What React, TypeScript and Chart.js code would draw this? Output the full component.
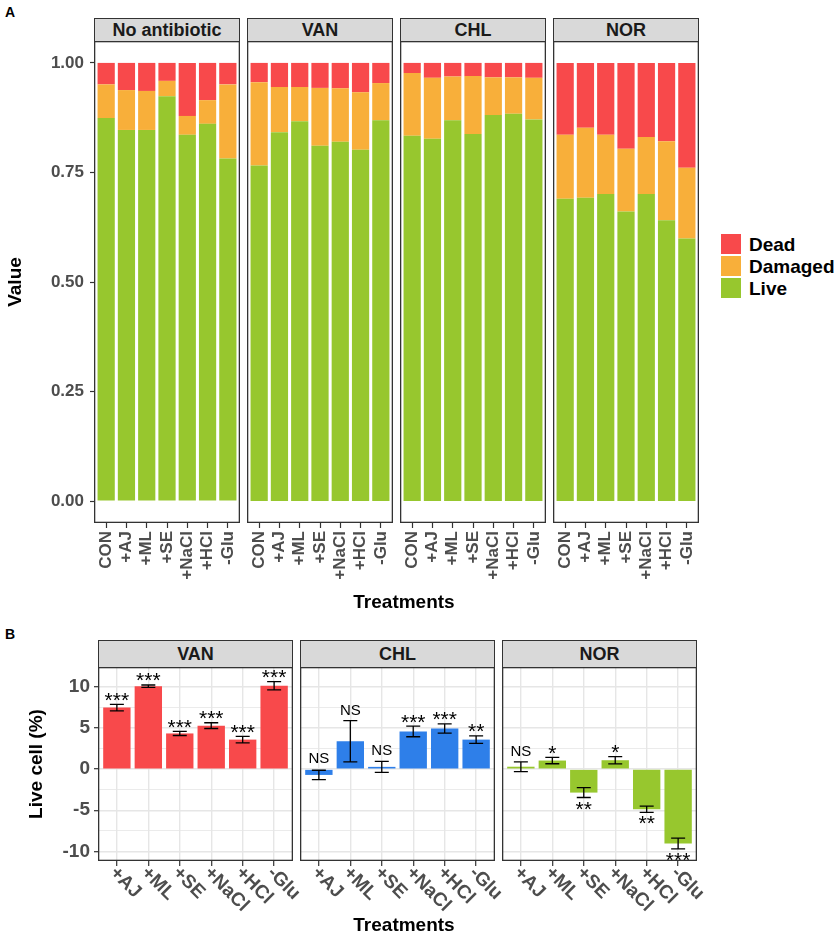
import React, { useEffect, useRef } from 'react';
import { Chart, registerables } from 'chart.js';
Chart.register(...registerables);

const FONT = "'Liberation Sans', Arial, Helvetica, sans-serif";
const RED = '#F8494B';
const ORANGE = '#F8AF3A';
const GREEN = '#97C72E';
const BLUE = '#2E7FE9';
const AXIS_TEXT = '#4D4D4D';

// ---------- Panel A data ----------
const treatmentsA = ['CON', '+AJ', '+ML', '+SE', '+NaCl', '+HCl', '-Glu'];
const facetTitlesA = ['No antibiotic', 'VAN', 'CHL', 'NOR'];
const yTicksA = [0, 0.25, 0.5, 0.75, 1];

const liveNone = [0.874, 0.847, 0.847, 0.924, 0.836, 0.861, 0.782];
const damagedNone = [0.077, 0.091, 0.089, 0.035, 0.043, 0.054, 0.169];
const deadNone = [0.049, 0.062, 0.064, 0.041, 0.121, 0.085, 0.049];

const liveVAN = [0.766, 0.842, 0.867, 0.811, 0.82, 0.802, 0.869];
const damagedVAN = [0.19, 0.103, 0.078, 0.132, 0.122, 0.131, 0.085];
const deadVAN = [0.044, 0.055, 0.055, 0.057, 0.058, 0.067, 0.046];

const liveCHL = [0.834, 0.827, 0.869, 0.838, 0.881, 0.884, 0.871];
const damagedCHL = [0.143, 0.139, 0.1, 0.132, 0.086, 0.083, 0.095];
const deadCHL = [0.023, 0.034, 0.031, 0.03, 0.033, 0.033, 0.034];

const liveNOR = [0.69, 0.692, 0.701, 0.661, 0.701, 0.641, 0.599];
const damagedNOR = [0.146, 0.16, 0.135, 0.143, 0.13, 0.18, 0.162];
const deadNOR = [0.164, 0.148, 0.164, 0.196, 0.169, 0.179, 0.239];

// ---------- Panel B data ----------
const treatmentsB = ['+AJ', '+ML', '+SE', '+NaCl', '+HCl', '-Glu'];
const facetTitlesB = ['VAN', 'CHL', 'NOR'];
const yTicksB = [-10, -5, 0, 5, 10];
const yMinorB = [-7.5, -2.5, 2.5, 7.5];

const changeVAN = [7.5, 10.1, 4.35, 5.3, 3.6, 10.15];
const errVAN = [0.4, 0.15, 0.25, 0.35, 0.4, 0.5];
const sigVAN = ['***', '***', '***', '***', '***', '***'];

const changeCHL = [-0.7, 3.4, 0.28, 4.6, 4.95, 3.6];
const errCHL = [0.57, 2.5, 0.67, 0.65, 0.57, 0.45];
const sigCHL = ['NS', 'NS', 'NS', '***', '***', '**'];

const changeNOR = [0.3, 1.05, -2.85, 1.09, -4.88, -9.05];
const errNOR = [0.59, 0.39, 0.6, 0.45, 0.37, 0.65];
const sigNOR = ['NS', '*', '**', '*', '**', '***'];

// ---------- layout ----------
const PA = { top: 41, bottom: 523, lefts: [94, 247, 400, 553], width: 146, xAxisH: 88, stripTop: 18 };
const PB = { top: 667, bottom: 861, lefts: [98, 300, 502], width: 195, xAxisH: 70, stripTop: 640, extraRight: 30 };

const borderPlugin = {
  id: 'panelBorder',
  afterDraw(chart: any) {
    const { ctx, chartArea: a } = chart;
    ctx.save();
    ctx.strokeStyle = '#333333';
    ctx.lineWidth = 1.3;
    ctx.strokeRect(a.left + 0.65, a.top + 0.65, a.right - a.left - 1.3, a.bottom - a.top - 1.3);
    ctx.restore();
  },
};

function ChartCanvas({ left, top, width, height, build }: any) {
  const ref = useRef<HTMLCanvasElement>(null);
  useEffect(() => {
    const chart = new Chart(ref.current as HTMLCanvasElement, build());
    return () => chart.destroy();
  }, []);
  return (
    <canvas
      ref={ref}
      width={width}
      height={height}
      style={{ position: 'absolute', left, top, width, height, display: 'block' }}
    />
  );
}

function buildStacked(live: number[], damaged: number[], dead: number[], first: boolean) {
  const pts = (arr: number[]) => arr.map((v, i) => ({ x: i, y: v }));
  return {
    type: 'bar',
    data: {
      datasets: [
        { label: 'Live', data: pts(live), backgroundColor: GREEN },
        { label: 'Damaged', data: pts(damaged), backgroundColor: ORANGE },
        { label: 'Dead', data: pts(dead), backgroundColor: RED },
      ],
    },
    options: {
      responsive: false,
      animation: false,
      events: [],
      layout: { padding: 0 },
      plugins: { legend: { display: false }, tooltip: { enabled: false } },
      datasets: { bar: { barPercentage: 0.85, categoryPercentage: 1, borderWidth: 0 } },
      scales: {
        x: {
          type: 'linear',
          stacked: true,
          offset: false,
          min: -0.6,
          max: 6.6,
          afterBuildTicks: (s: any) => {
            s.ticks = treatmentsA.map((_, i) => ({ value: i }));
          },
          afterFit: (s: any) => {
            s.height = PA.xAxisH;
            s.paddingLeft = 0;
            s.paddingRight = 0;
          },
          ticks: {
            autoSkip: false,
            minRotation: 90,
            maxRotation: 90,
            padding: 3,
            color: AXIS_TEXT,
            font: { family: FONT, size: 17, weight: 'bold' },
            callback: (v: any) => treatmentsA[v] ?? '',
          },
          grid: {
            display: true,
            offset: false,
            drawOnChartArea: false,
            drawTicks: true,
            tickLength: 5,
            tickColor: '#333333',
            tickWidth: 1.2,
          },
          border: { display: false },
        },
        y: {
          stacked: true,
          display: first,
          min: -0.05,
          max: 1.05,
          afterBuildTicks: (s: any) => {
            s.ticks = yTicksA.map((v) => ({ value: v }));
          },
          afterFit: (s: any) => {
            s.width = first ? PA.lefts[0] : 0;
            s.paddingTop = 0;
            s.paddingBottom = 0;
          },
          ticks: {
            padding: 6,
            color: AXIS_TEXT,
            font: { family: FONT, size: 17, weight: 'bold' },
            callback: (v: any) => Number(v).toFixed(2),
          },
          grid: { drawOnChartArea: false, tickLength: 4, tickColor: '#333333', tickWidth: 1.2 },
          border: { display: false },
          title: {
            display: true,
            text: 'Value',
            color: '#000000',
            font: { family: FONT, size: 19, weight: 'bold' },
            padding: { top: 4, bottom: 0 },
          },
        },
      },
    },
    plugins: [borderPlugin],
  };
}

function errPlugin(vals: number[], errs: number[], sigs: string[]) {
  return {
    id: 'errbars',
    afterDatasetsDraw(chart: any) {
      const xs = chart.scales.x;
      const ys = chart.scales.y;
      const ctx = chart.ctx;
      ctx.save();
      ctx.strokeStyle = '#000000';
      ctx.fillStyle = '#000000';
      ctx.lineWidth = 1.3;
      const zero = ys.getPixelForValue(0);
      vals.forEach((v, i) => {
        const x = xs.getPixelForValue(i);
        const yt = ys.getPixelForValue(v + errs[i]);
        const yb = ys.getPixelForValue(v - errs[i]);
        const cw = 7;
        ctx.beginPath();
        ctx.moveTo(x, yt);
        ctx.lineTo(x, yb);
        ctx.moveTo(x - cw, yt);
        ctx.lineTo(x + cw, yt);
        ctx.moveTo(x - cw, yb);
        ctx.lineTo(x + cw, yb);
        ctx.stroke();
        const s = sigs[i];
        const star = s !== 'NS';
        ctx.font = star ? `21px ${FONT}` : `15px ${FONT}`;
        ctx.textAlign = 'center';
        ctx.textBaseline = 'alphabetic';
        const m = ctx.measureText(s);
        const asc = m.actualBoundingBoxAscent;
        const desc = m.actualBoundingBoxDescent;
        const below = v < 0 && star;
        let base;
        if (below) {
          const glyphTop = yb + 4;
          base = glyphTop + asc;
        } else {
          const anchor = Math.min(yt, zero);
          const glyphBottom = anchor - (star ? 3.5 : 6);
          base = glyphBottom - desc;
        }
        ctx.fillText(s, x, base);
      });
      ctx.restore();
    },
  };
}

const xLabelsBPlugin = {
  id: 'xLabelsB',
  afterDraw(chart: any) {
    const xs = chart.scales.x;
    const a = chart.chartArea;
    const ctx = chart.ctx;
    ctx.save();
    ctx.font = `bold 19px ${FONT}`;
    ctx.fillStyle = AXIS_TEXT;
    ctx.textAlign = 'left';
    ctx.textBaseline = 'middle';
    treatmentsB.forEach((t, i) => {
      const x = xs.getPixelForValue(i);
      ctx.save();
      ctx.translate(x - 4, a.bottom + 9);
      ctx.rotate(Math.PI / 4);
      ctx.fillText(t, 0, 0);
      ctx.restore();
    });
    ctx.restore();
  },
};

function buildChange(vals: number[], errs: number[], sigs: string[], color: string, first: boolean) {
  const allY = [...yTicksB, ...yMinorB].sort((a, b) => a - b);
  return {
    type: 'bar',
    data: {
      datasets: [
        {
          label: 'Live cell (%)',
          data: vals.map((v, i) => ({ x: i, y: v })),
          backgroundColor: color,
        },
      ],
    },
    options: {
      responsive: false,
      animation: false,
      events: [],
      layout: { padding: { left: 0, top: 0, bottom: 0, right: PB.extraRight } },
      plugins: { legend: { display: false }, tooltip: { enabled: false } },
      datasets: { bar: { barPercentage: 0.87, categoryPercentage: 1, borderWidth: 0 } },
      scales: {
        x: {
          type: 'linear',
          offset: false,
          min: -0.6,
          max: 5.6,
          afterBuildTicks: (s: any) => {
            s.ticks = treatmentsB.map((_, i) => ({ value: i }));
          },
          afterFit: (s: any) => {
            s.height = PB.xAxisH;
            s.paddingLeft = 0;
            s.paddingRight = 0;
          },
          ticks: { display: false },
          grid: {
            display: true,
            offset: false,
            drawOnChartArea: true,
            color: '#E6E6E6',
            lineWidth: 1.4,
            drawTicks: true,
            tickLength: 5,
            tickColor: '#333333',
            tickWidth: 1.2,
          },
          border: { display: false },
        },
        y: {
          display: true,
          min: -11.18,
          max: 12.44,
          afterBuildTicks: (s: any) => {
            s.ticks = allY.map((v) => ({ value: v }));
          },
          afterFit: (s: any) => {
            s.width = first ? PB.lefts[0] : 0;
            s.paddingTop = 0;
            s.paddingBottom = 0;
          },
          ticks: {
            display: first,
            autoSkip: false,
            padding: 4,
            color: AXIS_TEXT,
            font: { family: FONT, size: 19, weight: 'bold' },
            callback: (v: any) => (yTicksB.includes(Number(v)) ? String(v) : ''),
          },
          grid: {
            drawOnChartArea: true,
            drawTicks: first,
            tickLength: 4,
            color: '#E6E6E6',
            lineWidth: (c: any) => (c.tick && yTicksB.includes(c.tick.value) ? 1.4 : 0.8),
            tickColor: (c: any) => (c.tick && yTicksB.includes(c.tick.value) ? '#333333' : 'rgba(0,0,0,0)'),
            tickWidth: 1.2,
          },
          border: { display: false },
          title: {
            display: first,
            text: 'Live cell (%)',
            color: '#000000',
            font: { family: FONT, size: 19, weight: 'bold' },
            padding: { top: 25, bottom: 0 },
          },
        },
      },
    },
    plugins: [borderPlugin, errPlugin(vals, errs, sigs), xLabelsBPlugin],
  };
}

function Strip({ left, top, width, height, text }: any) {
  return (
    <div
      style={{
        position: 'absolute',
        left,
        top,
        width,
        height,
        boxSizing: 'border-box',
        background: '#D9D9D9',
        border: '1.3px solid #333333',
        display: 'flex',
        alignItems: 'center',
        justifyContent: 'center',
        fontFamily: FONT,
        fontWeight: 'bold',
        fontSize: 18,
        color: '#1A1A1A',
        lineHeight: 1,
      }}
    >
      {text}
    </div>
  );
}

const textStyle = (extra: any) => ({
  position: 'absolute',
  fontFamily: FONT,
  fontWeight: 'bold',
  color: '#000000',
  lineHeight: 1,
  whiteSpace: 'nowrap',
  ...extra,
});

export default function App() {
  const stackData = [
    [liveNone, damagedNone, deadNone],
    [liveVAN, damagedVAN, deadVAN],
    [liveCHL, damagedCHL, deadCHL],
    [liveNOR, damagedNOR, deadNOR],
  ];
  const changeData = [
    [changeVAN, errVAN, sigVAN, RED],
    [changeCHL, errCHL, sigCHL, BLUE],
    [changeNOR, errNOR, sigNOR, GREEN],
  ] as any[];
  const legendItems = [
    ['Dead', RED],
    ['Damaged', ORANGE],
    ['Live', GREEN],
  ];
  const hA = PA.bottom - PA.top + PA.xAxisH;
  const hB = PB.bottom - PB.top + PB.xAxisH;

  return (
    <div style={{ position: 'absolute', left: 0, top: 0, width: 839, height: 937, background: '#FFFFFF', overflow: 'hidden' }}>
      <div style={textStyle({ left: 5, top: 5, fontSize: 14 })}>A</div>
      <div style={textStyle({ left: 5, top: 627, fontSize: 14 })}>B</div>

      {facetTitlesA.map((t, i) => (
        <Strip key={'sa' + i} left={PA.lefts[i]} top={PA.stripTop} width={PA.width} height={PA.top - PA.stripTop + 1} text={t} />
      ))}
      {stackData.map((d, i) => {
        const first = i === 0;
        const left = first ? 0 : PA.lefts[i];
        const width = first ? PA.lefts[0] + PA.width : PA.width;
        return (
          <ChartCanvas
            key={'ca' + i}
            left={left}
            top={PA.top}
            width={width}
            height={hA}
            build={() => buildStacked(d[0], d[1], d[2], first)}
          />
        );
      })}
      <div style={textStyle({ left: 304, width: 200, top: 592, fontSize: 19, textAlign: 'center' })}>Treatments</div>

      {legendItems.map(([name, col], i) => (
        <React.Fragment key={'lg' + i}>
          <div style={{ position: 'absolute', left: 721, top: 234 + i * 22, width: 20, height: 20, background: col }} />
          <div style={textStyle({ left: 749, top: 235 + i * 22, fontSize: 19 })}>{name}</div>
        </React.Fragment>
      ))}

      {facetTitlesB.map((t, i) => (
        <Strip key={'sb' + i} left={PB.lefts[i]} top={PB.stripTop} width={PB.width} height={PB.top - PB.stripTop + 1} text={t} />
      ))}
      {changeData.map((d, i) => {
        const first = i === 0;
        const left = first ? 0 : PB.lefts[i];
        const width = (first ? PB.lefts[0] + PB.width : PB.width) + PB.extraRight;
        return (
          <ChartCanvas
            key={'cb' + i}
            left={left}
            top={PB.top}
            width={width}
            height={hB}
            build={() => buildChange(d[0], d[1], d[2], d[3], first)}
          />
        );
      })}
      <div style={textStyle({ left: 304, width: 200, top: 915, fontSize: 19, textAlign: 'center' })}>Treatments</div>
    </div>
  );
}
